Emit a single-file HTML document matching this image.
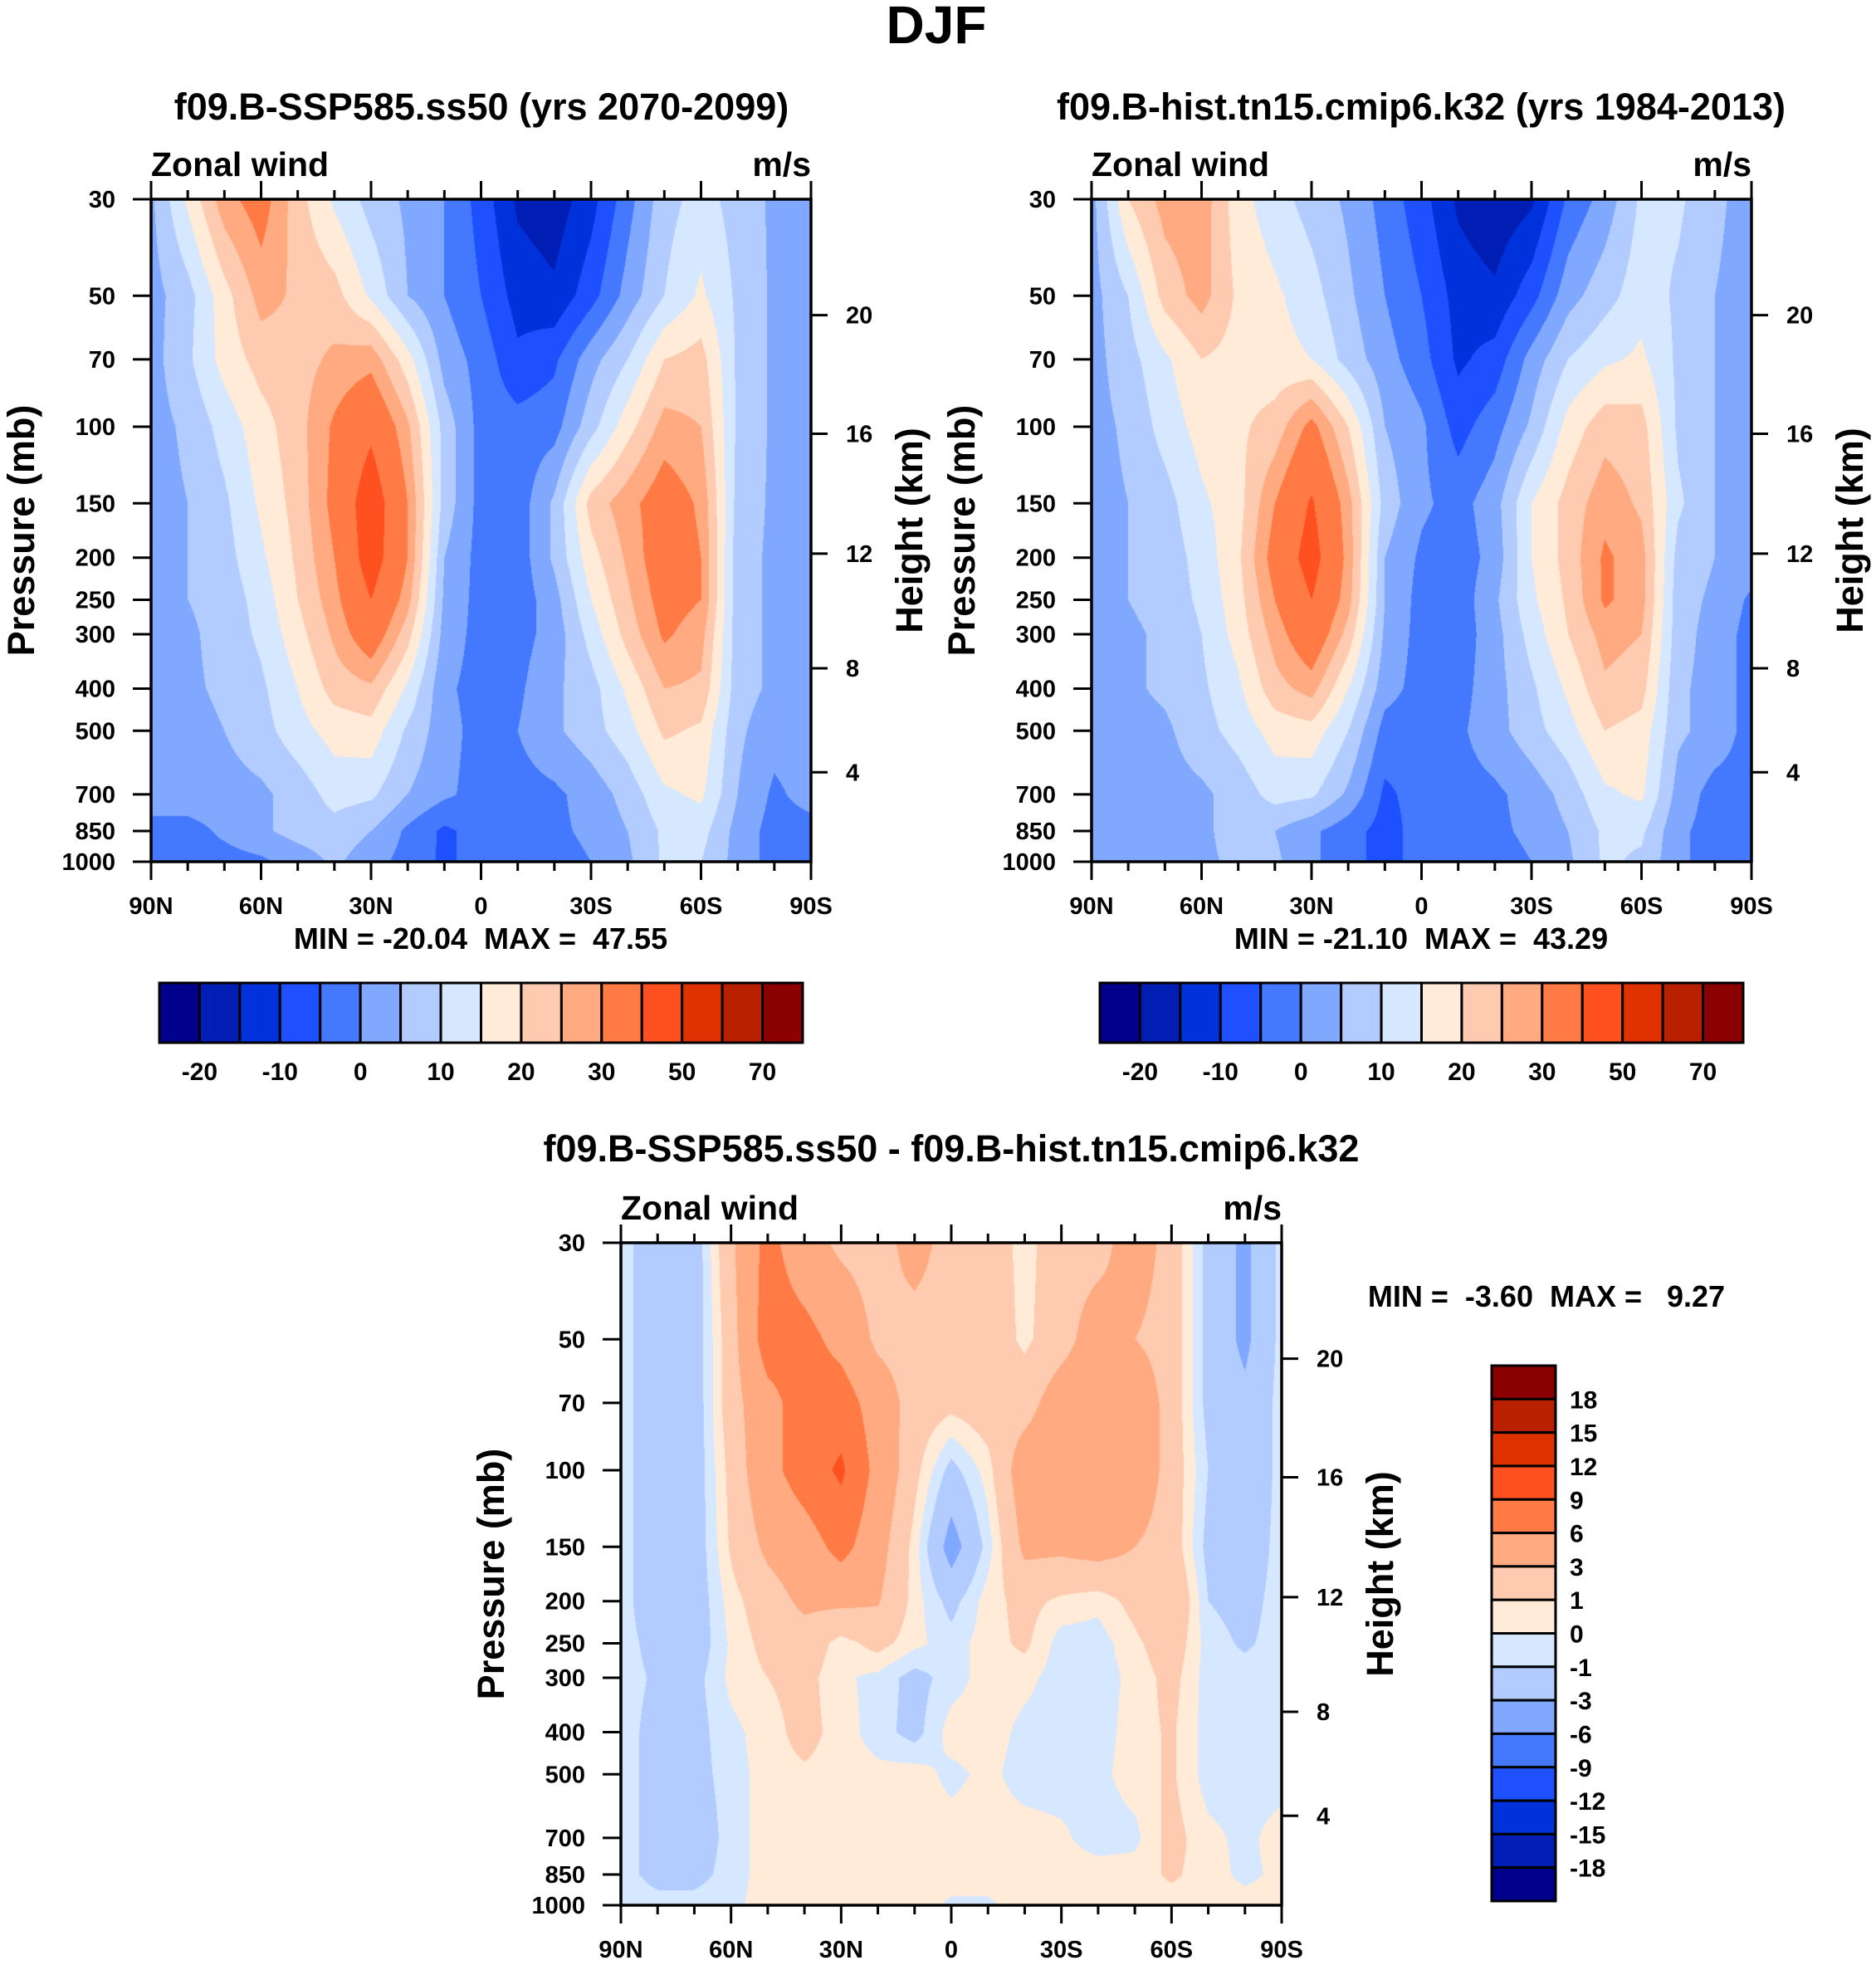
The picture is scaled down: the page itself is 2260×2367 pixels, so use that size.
<!DOCTYPE html>
<html><head><meta charset="utf-8">
<style>
html,body{margin:0;padding:0;background:#fff;}
#root{position:relative;width:2260px;height:2367px;overflow:hidden;background:#fff;font-family:"Liberation Sans",sans-serif;}
canvas{position:absolute;}
svg{position:absolute;left:0;top:0;}
text{font-family:"Liberation Sans",sans-serif;font-weight:bold;fill:#000;white-space:pre;}
</style></head>
<body>
<div id="root">
<canvas id="c1" width="795" height="798" style="left:182px;top:240px"></canvas>
<canvas id="c2" width="795" height="798" style="left:1315px;top:240px"></canvas>
<canvas id="c3" width="796" height="798" style="left:748px;top:1497px"></canvas>
<svg id="ov" width="2260" height="2367"></svg>
</div>
<script>
// ---------- data ----------
const pressureLevels=[30,50,70,100,150,200,250,300,400,500,700,850,1000];
const latLabels=["90N","60N","30N","0","30S","60S","90S"];
const pressureTicks=[30,50,70,100,150,200,250,300,400,500,700,850,1000];
const heightTicks=[4,8,12,16,20];
const windLevels=[-20,-15,-10,-5,0,5,10,15,20,25,30,40,50,60,70];
const windBarLabels=["-20","-10","0","10","20","30","50","70"];
const diffLevels=[-18,-15,-12,-9,-6,-3,-1,0,1,3,6,9,12,15,18];
const diffBarLabels=["18","15","12","9","6","3","1","0","-1","-3","-6","-9","-12","-15","-18"];
const palette=["#00008c","#001eb4","#0032dc","#1e50ff","#4478ff","#80a8ff","#b3ccff","#d6e8ff","#ffebd8","#ffcbb0","#ffaa80","#ff7a44","#ff5020","#e03200","#b82000","#8b0000"];
// rows = pressure levels (30..1000), columns = latitude 90N..90S every 10 deg
const sspWind=[
[4,16,28,33,22,14,8,4,0,-7,-16,-18,-12,-2,8,12,8,4,3],
[3,8,18,27,24,22,14,5,0,-5,-12,-14,-7,2,10,16,9,4,3],
[3,9,17,22,23,26,28,17,3,-2,-9,-6,3,10,20,22,9,4,3],
[3,6,12,18,23,31,38,26,8,-2,-3,-2,8,18,27,25,9,4,2],
[3,5,9,16,22,32,46,30,8,-2,-3,6,22,28,34,29,8,4,2],
[3,5,8,14,21,30,45,30,5,-2,-3,6,18,26,35,30,7,4,2],
[3,5,7,12,20,28,40,27,4,-2,-3,3,15,24,33,30,7,4,2],
[3,4,7,11,18,26,35,22,3,-2,-2,2,12,22,31,27,7,4,2],
[3,4,6,9,15,22,24,14,1,-2,-1,4,8,16,25,24,7,4,2],
[3,3,5,8,13,17,18,9,2,-2,0,4,8,13,21,19,6,2,3],
[3,3,3,4,7,12,11,5,1,-2,-2,-1,2,7,14,16,5,-1,2],
[-2,-2,1,4,7,8,5,-1,-6,-3,-2,-1,1,5,11,12,3,-2,-2],
[-2,-2,-2,-1,2,6,2,-2,-6,-3,-3,-2,0,4,11,10,3,-2,-2]];
const histWind=[
[3,20,27,28,17,12,8,4,-2,-8,-16,-19,-16,-4,2,11,11,6,3],
[3,10,22,27,19,16,12,6,0,-5,-12,-14,-7,3,8,13,9,5,3],
[3,8,14,20,18,17,15,8,2,-3,-11,-8,2,10,14,16,9,5,3],
[3,6,12,17,19,22,32,20,5,1,-7,-2,6,17,23,22,9,5,3],
[3,5,8,14,18,30,41,27,8,1,-2,3,15,22,28,24,11,5,3],
[3,5,7,12,19,33,44,28,5,-1,-3,2,15,22,31,27,8,5,3],
[3,5,7,11,18,30,40,27,5,-2,-3,4,14,21,31,27,7,4,-1],
[3,4,6,10,17,27,36,23,4,-2,-3,3,12,20,27,25,7,3,-2],
[3,4,6,9,14,23,27,15,2,-2,-2,3,9,16,24,22,6,3,-2],
[3,3,4,8,12,17,18,10,-2,-3,-1,3,8,13,20,18,6,3,-2],
[3,3,3,4,7,12,11,4,-6,-3,-2,-1,2,7,14,16,3,-2,-2],
[3,3,3,4,7,5,1,-3,-7,-3,-2,-1,1,5,11,11,1,-2,-2],
[2,3,3,4,6,6,1,-3,-7,-3,-3,-2,0,4,11,9,1,-2,-2]];
const diffWind=[
[-0.5,-2,-2,2.5,7,4,2.5,2,4,2,2,0.5,2,2,4.5,2,-1.5,-3.5,-0.5],
[-0.5,-2,-2,2,7.5,7,5,2.5,2,2,2,0.7,2,4.5,3,2,-1.5,-3.5,-0.5],
[-0.5,-2,-2,2,5,7.5,7.5,4.5,2,1.5,2,2,4.5,5,5,2,-1.5,-2.5,-0.5],
[-0.5,-2,-2,1.5,5,7.5,9.5,5,1.5,-1.5,0.5,4.5,5,5,5,2,-1,-2.5,-0.5],
[-0.5,-2,-2,1.2,3.5,4.5,7,4,0.5,-4,-0.5,3.5,3.5,4,3,2,-1.5,-2,-0.5],
[-0.5,-2,-2,0.5,2,3.5,3.5,3.2,0.5,-1.5,0.5,1.5,0.7,0.3,1.5,3,-1,-1.5,-0.5],
[-0.5,-1.5,-2,0.2,1.5,2,0.5,1.5,0.3,-0.5,0.5,1.3,-0.5,-0.5,0.7,2,-0.5,-1.2,-0.5],
[-0.5,-1.2,-1.5,0.3,1,1.5,0.2,-0.3,-1.5,-0.5,0.5,0.3,-0.5,-0.5,0.3,1.5,-0.5,-0.5,-0.5],
[-0.5,-1.5,-1.5,-0.3,0.5,1.5,0.5,-0.5,-1.5,0.5,0.5,-0.3,-0.5,-0.5,0.5,1.2,-0.5,-0.5,-0.5],
[-0.5,-1.5,-1.5,-0.5,0.5,0.8,0.5,0.3,0.5,-0.3,0.3,-0.5,-0.5,-0.3,0.5,1.2,-0.5,-0.5,-0.5],
[-0.5,-1.5,-2,-0.5,0.5,0.5,0.3,0.5,0.5,0.5,0.5,0.5,0.2,-0.5,-0.3,1.5,0.3,-0.3,0.5],
[-0.5,-1.5,-1.5,-0.5,0.5,0.5,0.5,0.5,0.5,0.5,0.5,0.5,0.5,0.5,0.5,1.2,0.5,-0.3,0.3],
[-0.3,-0.5,-0.5,-0.3,0.5,0.5,0.5,0.5,0.5,-0.2,-0.2,0.5,0.5,0.5,0.5,0.5,0.5,0.5,0.5]];
const heightFrac={4:0.865,8:0.708,12:0.535,16:0.354,20:0.175};

// ---------- contour fill ----------
function hex(c){return [parseInt(c.substr(1,2),16),parseInt(c.substr(3,2),16),parseInt(c.substr(5,2),16)];}
const palRGB=palette.map(hex);
const LP=pressureLevels.map(p=>Math.log(p));
function fill(id,grid,levels){
  const cv=document.getElementById(id),ctx=cv.getContext('2d');
  const W=cv.width,H=cv.height,img=ctx.createImageData(W,H),d=img.data;
  const nl=grid[0].length-1,l0=Math.log(30),l1=Math.log(1000);
  for(let y=0;y<H;y++){
    const lp=l0+(y+0.5)/H*(l1-l0);
    let k=0;while(k<LP.length-2&&lp>LP[k+1])k++;
    const ty=Math.min(1,Math.max(0,(lp-LP[k])/(LP[k+1]-LP[k])));
    const r0=grid[k],r1=grid[k+1];
    for(let x=0;x<W;x++){
      const fx=(x+0.5)/W*nl;let i=Math.min(nl-1,Math.floor(fx));const tx=fx-i;
      const v=(r0[i]*(1-tx)+r0[i+1]*tx)*(1-ty)+(r1[i]*(1-tx)+r1[i+1]*tx)*ty;
      let c=0;while(c<levels.length&&v>=levels[c])c++;
      const col=palRGB[c],o=(y*W+x)*4;
      d[o]=col[0];d[o+1]=col[1];d[o+2]=col[2];d[o+3]=255;
    }
  }
  ctx.putImageData(img,0,0);
}
fill('c1',sspWind,windLevels);
fill('c2',histWind,windLevels);
fill('c3',diffWind,diffLevels);

// ---------- axes ----------
const NS='http://www.w3.org/2000/svg',ov=document.getElementById('ov');
function txt(x,y,s,size,anchor,name,rot){
  const t=document.createElementNS(NS,'text');
  t.setAttribute('x',x);t.setAttribute('y',y);t.setAttribute('font-size',size);
  t.setAttribute('text-anchor',anchor);
  if(rot)t.setAttribute('transform','rotate(-90 '+x+' '+y+')');
  t.textContent=s;
  
  
  ov.appendChild(t);return t;
}
function ln(x1,y1,x2,y2,w,name){
  const l=document.createElementNS(NS,'line');
  l.setAttribute('x1',x1);l.setAttribute('y1',y1);l.setAttribute('x2',x2);l.setAttribute('y2',y2);
  l.setAttribute('stroke','#000');l.setAttribute('stroke-width',w);
  
  
  ov.appendChild(l);
}
function rect(x,y,w,h,fillc,name){
  const r=document.createElementNS(NS,'rect');
  r.setAttribute('x',x);r.setAttribute('y',y);r.setAttribute('width',w);r.setAttribute('height',h);
  r.setAttribute('fill',fillc);r.setAttribute('stroke','#000');r.setAttribute('stroke-width',3);
  
  
  ov.appendChild(r);
}
function axes(L,T,W,H,pfx){
  const py=p=>T+H*Math.log(p/30)/Math.log(1000/30);
  for(let i=0;i<=18;i++){
    const x=L+W*i/18,len=(i%3===0)?22:11;
    ln(x,T,x,T-len,3,pfx+'-top-tick');
    ln(x,T+H,x,T+H+len,3,pfx+'-bottom-tick');
  }
  latLabels.forEach((s,j)=>txt(L+W*j/6,T+H+63,s,29,'middle',pfx+'-lat-label'));
  pressureTicks.forEach(p=>{ln(L,py(p),L-22,py(p),3,pfx+'-pressure-tick');txt(L-43,py(p)+10,String(p),29,'end',pfx+'-pressure-label');});
  heightTicks.forEach(h=>{const y=T+H*heightFrac[h];ln(L+W,y,L+W+20,y,3,pfx+'-height-tick');txt(L+W+42,y+10,String(h),29,'start',pfx+'-height-label');});
  const f=document.createElementNS(NS,'rect');
  f.setAttribute('x',L);f.setAttribute('y',T);f.setAttribute('width',W);f.setAttribute('height',H);
  f.setAttribute('fill','none');f.setAttribute('stroke','#000');f.setAttribute('stroke-width',3.5);
  
  
  ov.appendChild(f);
  txt(L,T-28,'Zonal wind',41,'start',pfx+'-left-string');
  txt(L+W,T-28,'m/s',41,'end',pfx+'-units');
  txt(L-141,T+H/2,'Pressure (mb)',45,'middle',pfx+'-y-axis-title',true);
  txt(L+W+134,T+H/2,'Height (km)',45,'middle',pfx+'-right-axis-title',true);
}
axes(182,240,795,798,'ssp585');
axes(1315,240,795,798,'hist');
axes(748,1497,796,798,'diff');

txt(1128,52,'DJF',64,'middle','main-title');
txt(580,144,'f09.B-SSP585.ss50 (yrs 2070-2099)',45,'middle','ssp585-title');
txt(1712,144,'f09.B-hist.tn15.cmip6.k32 (yrs 1984-2013)',45,'middle','hist-title');
txt(1146,1399,'f09.B-SSP585.ss50 - f09.B-hist.tn15.cmip6.k32',45,'middle','diff-title');
txt(579,1143,'MIN = -20.04  MAX =  47.55',36,'middle','ssp585-min-max');
txt(1712,1143,'MIN = -21.10  MAX =  43.29',36,'middle','hist-min-max');
txt(1863,1574,'MIN =  -3.60  MAX =   9.27',36,'middle','diff-min-max');

function hbar(X,Y,W,H,pfx){
  const bw=W/16;
  for(let i=0;i<16;i++)rect(X+i*bw,Y,bw,H,palette[i],pfx+'-colorbar-box');
  windBarLabels.forEach((s,j)=>txt(X+(2*j+1)*bw,Y+H+45,s,30,'middle',pfx+'-colorbar-label'));
}
hbar(192,1184,775,72,'ssp585');
hbar(1325,1184,775,72,'hist');
(function(){
  const X=1797,Y=1645,W=77,H=645,bh=H/16;
  for(let i=0;i<16;i++)rect(X,Y+i*bh,W,bh,palette[15-i],'diff-colorbar-box');
  diffBarLabels.forEach((s,j)=>txt(X+94,Y+(j+1)*bh+11,s,30,'start','diff-colorbar-label'));
})();
</script>
</body></html>
